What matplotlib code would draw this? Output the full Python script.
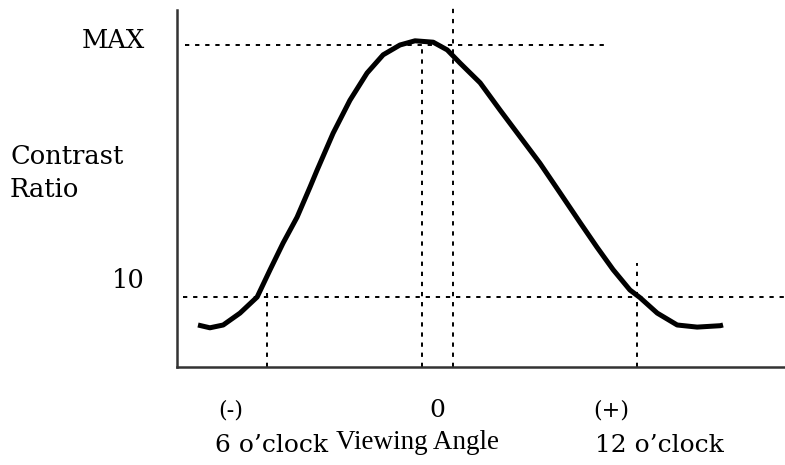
import matplotlib
matplotlib.use("Agg")
import matplotlib.pyplot as plt

# viewing angle (arbitrary degrees, 0 = normal) vs contrast ratio (arbitrary units, 10 = CR 10)
angle = [-68.3, -64.9, -61.1, -56.3, -51.4, -47.7, -44.0, -40.0, -36.3, -34.3,
         -29.7, -24.9, -20.0, -15.4, -10.6, -6.3, -1.1, 2.9, 6.6, 12.3,
         18.0, 23.7, 29.4, 35.1, 40.9, 45.7, 50.3, 55.1, 58.0, 62.9,
         68.6, 74.3, 80.9, 81.7]
contrast = [6.0, 5.6, 6.0, 7.7, 10.0, 13.9, 17.7, 21.4, 25.7, 28.1,
            33.4, 38.1, 42.0, 44.6, 46.0, 46.6, 46.4, 45.3, 43.4, 40.6,
            36.7, 32.9, 29.1, 24.9, 20.6, 17.1, 13.9, 11.0, 9.9, 7.7,
            6.0, 5.7, 5.9, 6.0]

cr_max = 46.0
cr_10 = 10.0
angle_peak = -4.3        # angle of maximum contrast
angle_0 = 4.6            # right-hand centre marker
angle_cr10_neg = -48.6   # CR = 10 on the 6 o'clock side
angle_cr10_pos = 57.1    # CR = 10 on the 12 o'clock side

serif = "DejaVu Serif"
fig = plt.figure(figsize=(7.85, 4.65), dpi=100)
ax = fig.add_axes([177 / 785, 98 / 465, 608 / 785, 357 / 465])
ax.set_xlim(-74.3, 99.4)
ax.set_ylim(0, 51)

dash = dict(color="black", lw=1.4, linestyle=(0, (2.2, 3.0)), clip_on=False)
ax.plot([-72.0, 48.9], [cr_max, cr_max], **dash)
ax.plot([-72.6, 99.4], [cr_10, cr_10], **dash)
ax.plot([angle_cr10_neg, angle_cr10_neg], [0, 10.6], **dash)
ax.plot([angle_peak, angle_peak], [0, cr_max], **dash)
ax.plot([angle_0, angle_0], [0, 52.0], **dash)
ax.plot([angle_cr10_pos, angle_cr10_pos], [0, 14.9], **dash)

ax.plot(angle, contrast, color="black", lw=3.6, solid_joinstyle="round",
        solid_capstyle="butt")

for s in ["top", "right"]:
    ax.spines[s].set_visible(False)
for s in ["left", "bottom"]:
    ax.spines[s].set_color("#333333")
    ax.spines[s].set_linewidth(1.8)
ax.set_xticks([])
ax.set_yticks([])

# y labels
fig.text(145 / 785, 1 - 41 / 465, "MAX", ha="right", va="center", fontsize=18.5, family=serif)
fig.text(145 / 785, 1 - 281 / 465, "10", ha="right", va="center", fontsize=18.5, family=serif)
fig.text(10 / 785, 1 - 156 / 465, "Contrast", ha="left", va="center", fontsize=18.5, family=serif)
fig.text(10 / 785, 1 - 189 / 465, "Ratio", ha="left", va="center", fontsize=18.5, family=serif)

# x labels
fig.text(231 / 785, 1 - 410 / 465, "(-)", ha="center", va="center", fontsize=16, family=serif)
fig.text(437 / 785, 1 - 410 / 465, "0", ha="center", va="center", fontsize=18, family=serif)
fig.text(611 / 785, 1 - 410 / 465, "(+)", ha="center", va="center", fontsize=16, family=serif)
fig.text(272 / 785, 1 - 445 / 465, "6 o\u2019clock", ha="center", va="center", fontsize=18, family=serif)
fig.text(417 / 785, 1 - 442 / 465, "Viewing Angle", ha="center", va="center", fontsize=19.5,
         family="Liberation Serif")
fig.text(659 / 785, 1 - 445 / 465, "12 o\u2019clock", ha="center", va="center", fontsize=18, family=serif)

fig.savefig("out.png", dpi=100)
